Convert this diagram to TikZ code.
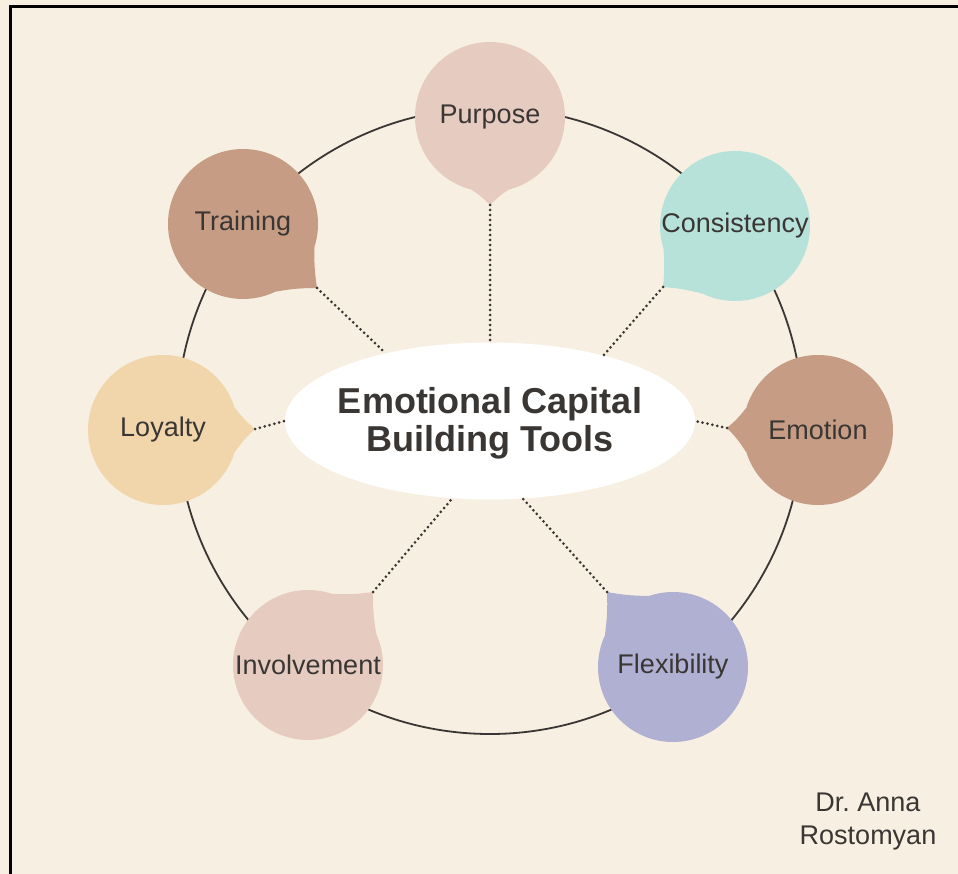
\documentclass[tikz,border=0pt]{standalone}
\usepackage{fontspec}
\setmainfont{Liberation Sans}
\usetikzlibrary{shapes.geometric}

\definecolor{paper}{HTML}{F7EFE2}
\definecolor{ink}{HTML}{3A3633}
\definecolor{rose}{HTML}{E6CCC0}
\definecolor{clay}{HTML}{C69C84}
\definecolor{mint}{HTML}{B7E2DA}
\definecolor{sand}{HTML}{F0D6AA}
\definecolor{lilac}{HTML}{AFB0D2}

\tikzset{
  bubble/.style={circle, minimum size=150pt, inner sep=0pt, text=ink,
    font=\fontsize{27}{30}\selectfont},
  dots/.style={ink, line width=3pt, line cap=round, dash pattern=on 0pt off 5pt},
  ring/.style={ink, line width=1.8pt},
}

\begin{document}
\begin{tikzpicture}[x=1pt, y=-1pt]
    % Background and frame
    \fill[paper] (0,0) rectangle (958,874);
    \useasboundingbox (0,0) rectangle (958,874);
    \draw[black, line width=3pt] (10,874) -- (10,7) -- (958,7);

    % Outer ring
    \draw[ring] (490,421) circle[radius=313pt];

    % Centre oval
    \node[ellipse, fill=white, minimum width=410pt, minimum height=157pt, inner sep=0pt] (title) at (490,421) {};
    \node[align=center, text=ink, font=\bfseries\fontsize{36}{38}\selectfont] (titletext) at (490,423) {Emotional Capital\\Building Tools};

    % Speech bubbles
    \node[bubble, fill=rose] (purpose) at (490,117) {Purpose};
    \node[bubble, fill=clay] (training) at (243,224) {Training};
    \node[bubble, fill=mint] (consistency) at (735,226) {Consistency};
    \node[bubble, fill=sand] (loyalty) at (163,430) {Loyalty};
    \node[bubble, fill=clay] (emotion) at (818,430) {Emotion};
    \node[bubble, fill=rose] (involvement) at (308,665) {Involvement};
    \node[bubble, fill=lilac] (flexibility) at (673,667) {Flexibility};

    % Tail tips
    \coordinate (purpose-tip) at (490,205);
    \coordinate (training-tip) at (317,288);
    \coordinate (consistency-tip) at (663,287);
    \coordinate (loyalty-tip) at (255,429);
    \coordinate (emotion-tip) at (727,428);
    \coordinate (involvement-tip) at (373,592);
    \coordinate (flexibility-tip) at (607,592);

    % Tails
    \fill[rose] (purpose-tip) to[bend left=6] (purpose.-76) -- (purpose.-104) to[bend left=6] (purpose-tip);
    \fill[clay] (training-tip) to[bend left=5] (training.-18) -- (training.-64) to[bend left=5] (training-tip);
    \fill[mint] (consistency-tip) to[bend left=5] (consistency.-116) -- (consistency.-162) to[bend left=5] (consistency-tip);
    \fill[sand] (loyalty-tip) to[bend left=6] (loyalty.17) -- (loyalty.-17) to[bend left=6] (loyalty-tip);
    \fill[clay] (emotion-tip) to[bend left=6] (emotion.197) -- (emotion.163) to[bend left=6] (emotion-tip);
    \fill[rose] (involvement-tip) to[bend left=5] (involvement.71) -- (involvement.25) to[bend left=5] (involvement-tip);
    \fill[lilac] (flexibility-tip) to[bend left=5] (flexibility.155) -- (flexibility.109) to[bend left=5] (flexibility-tip);

    % Dotted links to the centre
    \draw[dots] (purpose-tip) -- (title.90);
    \draw[dots] (training-tip) -- (title.147);
    \draw[dots] (consistency-tip) -- (title.30);
    \draw[dots] (loyalty-tip) -- (title.180);
    \draw[dots] (emotion-tip) -- (title.0);
    \draw[dots] (involvement-tip) -- (title.-116);
    \draw[dots] (flexibility-tip) -- (title.-67);

    % Author
    \node[align=center, text=ink, font=\fontsize{27}{33}\selectfont] (author) at (868,822) {Dr.\ Anna\\Rostomyan};
\end{tikzpicture}
\end{document}
